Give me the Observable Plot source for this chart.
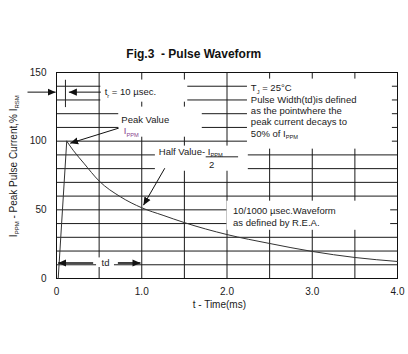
<!DOCTYPE html>
<html>
<head>
<meta charset="utf-8">
<script src="https://cdn.jsdelivr.net/npm/d3@7"></script>
<script src="https://cdn.jsdelivr.net/npm/@observablehq/plot@0.6"></script>
<style>
  html, body { margin: 0; padding: 0; background: #fff; }
</style>
</head>
<body>
<div id="chart"></div>
<script>
// ---- data ----
const title = "Fig.3  - Pulse Waveform";
const xTitle = "t - Time(ms)";
const yTitle = "I_{PPM} - Peak Pulse Current,% I_{RSM}";
const xTicks = [0, 1, 2, 3, 4];
const xTickLabels = ["0", "1.0", "2.0", "3.0", "4.0"];
const yTicks = [0, 50, 100, 150];
const gridX = [0, 0.5, 1, 1.5, 2, 2.5, 3, 3.5, 4];
const gridY = [0, 10, 20, 30, 40, 50, 60, 70, 80, 90, 100, 110, 120, 130, 140, 150];

// waveform: linear rise, then decay
const riseT = [0.02, 0.12];
const riseV = [0, 100];
const decayT = [0.12, 0.2, 0.32, 0.5, 0.75, 1.0, 1.25, 1.5, 2.0, 2.5, 3.0, 3.5, 4.0];
const decayV = [100, 93, 84, 71, 59.5, 51.5, 46, 40.7, 32, 25.5, 19.7, 15.3, 12.4];

// annotation boxes (white panels behind labels), in data units
const boxT1 = [0.52, 0.73, 1.16, 2.24, 2.0, 0.47];
const boxT2 = [1.54, 1.71, 2.25, 3.94, 3.92, 0.68];
const boxV1 = [128.4, 102.9, 78.1, 94.2, 35.1, 8];
const boxV2 = [144.5, 124.8, 96.4, 145.2, 56.3, 15];

// arrows (from -> to)
const arrT1 = [-0.34, 0.52, 0.73, 1.27, 0.43, 0.72];
const arrV1 = [135.7, 135.7, 109.5, 80.3, 11.3, 11.3];
const arrT2 = [-0.01, 0.145, 0.16, 1.02, 0.02, 0.985];
const arrV2 = [135.7, 135.7, 98.5, 53.4, 11.3, 11.3];
const arrW = [1, 1, 1, 1, 1.6, 1.6];

// plain segments: tr marker, fraction bar
const segT1 = [0.105, 1.75];
const segT2 = [0.105, 2.13];
const segV1 = [124.8, 88.6];
const segV2 = [144.7, 88.6];

// labels
const labelText = ["t_{r} = 10 µsec.", "Peak Value", "Half Value- I_{PPM}", "T_{J} = 25°C",
  "Pulse Width(td)is defined", "as the pointwhere the", "peak current decays to", "50% of I_{PPM}",
  "10/1000 µsec.Waveform", "as defined by R.E.A."];
const labelT = [0.565, 0.76, 1.20, 2.28, 2.28, 2.28, 2.28, 2.28, 2.07, 2.07];
const labelV = [135.7, 115.5, 92.5, 138.6, 130.2, 121.9, 113.8, 105.6, 49, 40.6];
const centerText = ["2", "td"];
const centerT = [1.82, 0.575];
const centerV = [83, 11.1];
const peakSymbol = ["I_{PPM}"];
const peakT = [0.79];
const peakV = [107.3];

// ---- build tables ----
const rise = riseT.map((t, i) => ({t, v: riseV[i]}));
const decay = decayT.map((t, i) => ({t, v: decayV[i]}));
const boxes = boxT1.map((t, i) => ({t1: t, t2: boxT2[i], v1: boxV1[i], v2: boxV2[i]}));
const arrows = arrT1.map((t, i) => ({t1: t, v1: arrV1[i], t2: arrT2[i], v2: arrV2[i], w: arrW[i]}));
const segs = segT1.map((t, i) => ({t1: t, t2: segT2[i], v1: segV1[i], v2: segV2[i]}));
const labels = labelText.map((s, i) => ({s, t: labelT[i], v: labelV[i]}));
const centers = centerText.map((s, i) => ({s, t: centerT[i], v: centerV[i]}));
const peaks = peakSymbol.map((s, i) => ({s, t: peakT[i], v: peakV[i]}));

const font = "'Liberation Sans', Arial, Helvetica, sans-serif";
const ink = "#1a1a1a";

const plot = Plot.plot({
  width: 408,
  height: 354,
  marginLeft: 56,
  marginRight: 11,
  marginTop: 72,
  marginBottom: 76,
  style: {fontFamily: font, fontSize: "10px", color: ink, background: "#fff", overflow: "visible"},
  x: {domain: [0, 4], ticks: xTicks, tickFormat: (d) => xTickLabels[xTicks.indexOf(d)], tickSize: 0, tickPadding: 9, label: null},
  y: {domain: [0, 150], ticks: yTicks, tickSize: 0, tickPadding: 10, label: null},
  marks: [
    Plot.ruleY(gridY, {stroke: "#1a1a1a", strokeWidth: 1}),
    Plot.ruleX(gridX, {stroke: "#1a1a1a", strokeWidth: 1}),
    Plot.rect(boxes, {x1: "t1", x2: "t2", y1: "v1", y2: "v2", fill: "white"}),
    Plot.link(segs, {x1: "t1", x2: "t2", y1: "v1", y2: "v2", stroke: "#222"}),
    Plot.frame({stroke: "#111"}),
    Plot.line(rise, {x: "t", y: "v", stroke: "#333", strokeWidth: 1}),
    Plot.line(decay, {x: "t", y: "v", stroke: "#333", strokeWidth: 1, curve: "monotone-x"}),
    Plot.link(arrows, {x1: "t1", y1: "v1", x2: "t2", y2: "v2", stroke: "#111", strokeWidth: "w", markerEnd: "arrow"}),
    Plot.text(labels, {x: "t", y: "v", text: "s", textAnchor: "start", fontSize: 9.5, fill: ink}),
    Plot.text(centers, {x: "t", y: "v", text: "s", textAnchor: "middle", fontSize: 9.5, fill: ink}),
    Plot.text(peaks, {x: "t", y: "v", text: "s", textAnchor: "start", fontSize: 9.5, fill: "#8a3f8e"}),
    Plot.text([title], {x: () => 1.61, y: () => 163.4, text: (d) => d, fontSize: 12, fontWeight: "bold", fill: "#111"}),
    Plot.text([xTitle], {x: () => 1.91, y: () => -19.5, text: (d) => d, fontSize: 10, fill: ink}),
    Plot.text([yTitle], {x: () => -0.505, y: () => 81.8, text: (d) => d, fontSize: 10, rotate: -90, fill: ink})
  ]
});

// subscripts: turn "_{...}" into smaller, lowered tspans
d3.select(plot).selectAll("text, tspan").each(function () {
  if (this.children.length) return;
  const s = this.textContent;
  if (!s.includes("_{")) return;
  const parts = s.split(/(_\{[^}]*\})/).filter((p) => p);
  this.textContent = "";
  let down = false;
  for (const p of parts) {
    const ts = document.createElementNS("http://www.w3.org/2000/svg", "tspan");
    if (p.startsWith("_{")) {
      ts.textContent = p.slice(2, -1);
      ts.setAttribute("font-size", "0.6em");
      ts.setAttribute("dy", down ? "0" : "2.5");
      down = true;
    } else {
      ts.textContent = p;
      if (down) ts.setAttribute("dy", "-2.5");
      down = false;
    }
    this.appendChild(ts);
  }
});

// solid arrow heads
d3.select(plot).selectAll("marker").each(function () {
  const m = d3.select(this);
  m.attr("markerUnits", "userSpaceOnUse").attr("markerWidth", 16).attr("markerHeight", 16)
   .attr("fill", "#111").attr("stroke", "none");
  m.selectAll("path").attr("d", "M-5,-2.2L0,0L-5,2.2Z");
});

document.getElementById("chart").appendChild(plot);
</script>
</body>
</html>
